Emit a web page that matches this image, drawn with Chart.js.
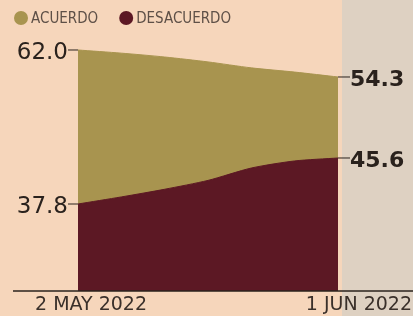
<!DOCTYPE html>
<html>
<head>
<meta charset="utf-8">
<script src="https://cdn.jsdelivr.net/npm/chart.js@4"></script>
<style>
html, body { margin: 0; padding: 0; background: #f6d6bb; }
#wrap { width: 413px; height: 316px; position: relative; }
</style>
</head>
<body>
<div id="wrap"><canvas id="encuesta"></canvas></div>
<script>
// mediciones cada 5 dias, 2 may - 1 jun 2022
var fechas = ['2 May', '7 May', '12 May', '17 May', '22 May', '27 May', '1 Jun'];
var acuerdo = [62.0, 61.1, 60.0, 58.6, 56.9, 55.7, 54.3];
var desacuerdo = [37.8, 39.0, 40.3, 41.8, 43.9, 45.1, 45.6];
var etiquetasX = ['2 MAY 2022', '1 JUN 2022'];
var nombres = ['ACUERDO', 'DESACUERDO'];
var colores = ['#a8944f', '#5c1824'];

var tinta = '#2a221d';

var decoracion = {
    id: 'decoracion',
    beforeDraw: function (chart) {
        var ctx = chart.ctx, area = chart.chartArea;
        ctx.save();
        // panel gris de la derecha
        ctx.fillStyle = '#ded1c2';
        ctx.fillRect(area.right + 4, 0, chart.width - area.right - 4, chart.height);
        ctx.restore();
    },
    afterDatasetsDraw: function (chart) {
        var ctx = chart.ctx, area = chart.chartArea;
        ctx.save();
        // linea base
        ctx.strokeStyle = tinta;
        ctx.lineWidth = 1.5;
        ctx.beginPath();
        ctx.moveTo(13, area.bottom);
        ctx.lineTo(chart.width, area.bottom);
        ctx.stroke();

        ctx.lineWidth = 1;
        chart.data.datasets.forEach(function (ds, i) {
            var pts = chart.getDatasetMeta(i).data;
            var ini = pts[0], fin = pts[pts.length - 1];
            // valor inicial (izquierda)
            ctx.beginPath();
            ctx.moveTo(ini.x - 10, ini.y);
            ctx.lineTo(ini.x, ini.y);
            ctx.stroke();
            ctx.fillStyle = tinta;
            ctx.font = '23px "DejaVu Sans"';
            ctx.textAlign = 'right';
            ctx.textBaseline = 'middle';
            ctx.fillText(ds.data[0].toFixed(1), ini.x - 10, ini.y + 3);
            // valor final (derecha)
            ctx.beginPath();
            ctx.moveTo(fin.x, fin.y);
            ctx.lineTo(fin.x + 12, fin.y);
            ctx.stroke();
            ctx.font = 'bold 22px "DejaVu Sans"';
            ctx.textAlign = 'left';
            ctx.fillText(ds.data[ds.data.length - 1].toFixed(1), fin.x + 12, fin.y + 3);
        });

        // fechas
        var x = chart.scales.x;
        ctx.fillStyle = '#3a302a';
        ctx.font = '19px "DejaVu Sans"';
        ctx.textBaseline = 'alphabetic';
        ctx.textAlign = 'left';
        ctx.fillText(etiquetasX[0], x.getPixelForValue(0) - 43, area.bottom + 19);
        ctx.textAlign = 'right';
        ctx.fillText(etiquetasX[1], chart.width - 1, area.bottom + 19);

        // leyenda
        ctx.font = '15px "DejaVu Sans Condensed"';
        ctx.textAlign = 'left';
        ctx.textBaseline = 'middle';
        var lx = 21;
        nombres.forEach(function (n, i) {
            ctx.fillStyle = colores[i];
            ctx.beginPath();
            ctx.arc(lx, 18, 7, 0, Math.PI * 2);
            ctx.fill();
            ctx.fillStyle = '#5e5047';
            ctx.fillText(n, lx + 10, 19);
            lx += 10 + ctx.measureText(n).width + 28;
        });
        ctx.restore();
    }
};

var ctx = document.getElementById('encuesta').getContext('2d');
var grafica = new Chart(ctx, {
    type: 'line',
    data: {
        labels: fechas,
        datasets: [
            {
                label: nombres[0],
                data: acuerdo,
                yAxisID: 'yA',
                backgroundColor: colores[0],
                borderColor: colores[0],
                borderWidth: 1,
                fill: 'start',
                order: 2
            },
            {
                label: nombres[1],
                data: desacuerdo,
                yAxisID: 'yD',
                backgroundColor: colores[1],
                borderColor: colores[1],
                borderWidth: 1,
                fill: 'start',
                order: 1
            }]
    },
    options: {
        responsive: true,
        maintainAspectRatio: false,
        animation: false,
        layout: { padding: { left: 78, right: 75, top: 30, bottom: 25 } },
        elements: {
            point: { radius: 0 },
            line: { tension: 0.25 }
        },
        scales: {
            x: { display: false, offset: false },
            yA: { display: false, min: -6.73, max: 67.7 },
            yD: { display: false, min: 23.05, max: 67.3 }
        },
        plugins: {
            legend: { display: false },
            tooltip: { enabled: false }
        }
    },
    plugins: [decoracion]
});
</script>
</body>
</html>
